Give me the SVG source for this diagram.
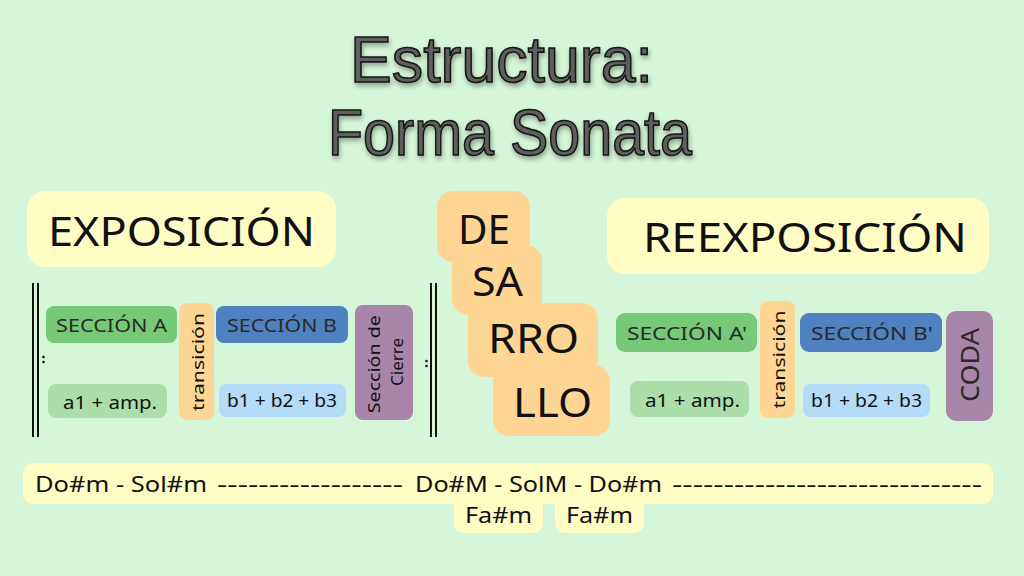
<svg xmlns="http://www.w3.org/2000/svg" width="1024" height="576" viewBox="0 0 1024 576">
<defs>
<filter id="sh" x="-10%" y="-20%" width="120%" height="150%">
<feGaussianBlur in="SourceAlpha" stdDeviation="2.5"/>
<feOffset dx="1" dy="3" result="b"/>
<feComponentTransfer><feFuncA type="linear" slope="0.35"/></feComponentTransfer>
<feMerge><feMergeNode/><feMergeNode in="SourceGraphic"/></feMerge>
</filter>
<style>
.t{font-family:"Noto Sans","Open Sans","DejaVu Sans",sans-serif;fill:#111;}
.title{font-family:"Liberation Sans",Arial,sans-serif;font-size:64px;fill:#5e5e5e;stroke:#151515;stroke-width:1.6px;text-anchor:start;}
.head{font-size:40px;}
.des{font-size:40px;}
.sec{font-size:18px;fill:#2a2a2a;}
.sub{font-size:18px;}
.rot{font-size:17px;text-anchor:middle;}
.chord{font-size:21px;}
.yel{fill:#FFFCC4;}
.ora{fill:#FFD594;}
.grn{fill:#77C877;}
.blu{fill:#4F80C0;}
.pur{fill:#A886A9;}
.lgr{fill:#ABDEA9;}
.lbl{fill:#B4DBF8;}
.bar{stroke:#111;stroke-width:2;}
</style>
</defs>
<rect width="1024" height="576" fill="#D5F6D8"/>

<g id="title" filter="url(#sh)">
<text class="title" x="350" y="82" textLength="303" lengthAdjust="spacingAndGlyphs">Estructura:</text>
<text class="title" x="328" y="155" textLength="364" lengthAdjust="spacingAndGlyphs">Forma Sonata</text>
</g>

<g id="exposicion">
<rect class="yel" x="27" y="191" width="309" height="76" rx="18"/>
<text class="t head" x="48" y="246" textLength="267" lengthAdjust="spacingAndGlyphs">EXPOSICIÓN</text>
</g>

<g id="reexposicion">
<rect class="yel" x="607" y="198" width="382" height="76" rx="18"/>
<text class="t head" x="643" y="252" textLength="324" lengthAdjust="spacingAndGlyphs">REEXPOSICIÓN</text>
</g>

<g id="desarrollo">
<rect class="ora" x="437" y="191" width="93" height="71" rx="16"/>
<rect class="ora" x="452" y="245" width="90" height="70" rx="16"/>
<rect class="ora" x="468" y="303" width="130" height="74" rx="16"/>
<rect class="ora" x="493" y="365" width="117" height="71" rx="16"/>
<text class="t des" x="458" y="244" textLength="52" lengthAdjust="spacingAndGlyphs">DE</text>
<text class="t des" x="472" y="296" textLength="51" lengthAdjust="spacingAndGlyphs">SA</text>
<text class="t des" x="488" y="353" textLength="91" lengthAdjust="spacingAndGlyphs">RRO</text>
<text class="t des" x="513" y="417" textLength="79" lengthAdjust="spacingAndGlyphs">LLO</text>
</g>

<g id="repeat-bars">
<line class="bar" x1="33" y1="283" x2="33" y2="437"/>
<line class="bar" x1="38" y1="283" x2="38" y2="437"/>
<circle cx="43.5" cy="357" r="1.3" fill="#111"/>
<circle cx="43.5" cy="362" r="1.3" fill="#111"/>
<line class="bar" x1="431" y1="283" x2="431" y2="437"/>
<line class="bar" x1="436" y1="283" x2="436" y2="437"/>
<circle cx="426.5" cy="361" r="1.3" fill="#111"/>
<circle cx="426.5" cy="366" r="1.3" fill="#111"/>
</g>

<g id="seccion-a">
<rect class="grn" x="46" y="306" width="131" height="37" rx="8"/>
<text class="t sec" x="56" y="332" textLength="111" lengthAdjust="spacingAndGlyphs">SECCIÓN A</text>
</g>
<g id="a1-amp">
<rect class="lgr" x="48" y="384" width="119" height="34" rx="8"/>
<text class="t sub" x="63" y="409" textLength="94" lengthAdjust="spacingAndGlyphs">a1 + amp.</text>
</g>
<g id="transicion-1">
<rect class="ora" x="179" y="303" width="35" height="117" rx="8"/>
<text class="t rot" transform="translate(196.5 362) rotate(-90)" x="0" y="7" textLength="98" lengthAdjust="spacingAndGlyphs">transición</text>
</g>
<g id="seccion-b">
<rect class="blu" x="216" y="306" width="132" height="37" rx="8"/>
<text class="t sec" x="227" y="332" textLength="110" lengthAdjust="spacingAndGlyphs">SECCIÓN B</text>
</g>
<g id="b1-b2-b3">
<rect class="lbl" x="219" y="384" width="127" height="33" rx="8"/>
<text class="t sub" x="227" y="407" textLength="110" lengthAdjust="spacingAndGlyphs">b1 + b2 + b3</text>
</g>
<g id="seccion-cierre">
<rect class="pur" x="355" y="305" width="58" height="115" rx="8"/>
<text class="t rot" transform="translate(384 362) rotate(-90)" fill="#2a2a2a">
<tspan x="0" y="-4" textLength="98" lengthAdjust="spacingAndGlyphs">Sección de</tspan>
<tspan x="0" y="19">Cierre</tspan>
</text>
</g>

<g id="seccion-a2">
<rect class="grn" x="616" y="313" width="141" height="39" rx="9"/>
<text class="t sec" x="627" y="340" textLength="120" lengthAdjust="spacingAndGlyphs">SECCIÓN A'</text>
</g>
<g id="a1-amp-2">
<rect class="lgr" x="630" y="381" width="119" height="36" rx="8"/>
<text class="t sub" x="645" y="407" textLength="95" lengthAdjust="spacingAndGlyphs">a1 + amp.</text>
</g>
<g id="transicion-2">
<rect class="ora" x="760" y="301" width="35" height="117" rx="8"/>
<text class="t rot" transform="translate(777.5 359.5) rotate(-90)" x="0" y="7" textLength="98" lengthAdjust="spacingAndGlyphs">transición</text>
</g>
<g id="seccion-b2">
<rect class="blu" x="800" y="313" width="142" height="39" rx="9"/>
<text class="t sec" x="811" y="340" textLength="122" lengthAdjust="spacingAndGlyphs">SECCIÓN B'</text>
</g>
<g id="b1-b2-b3-2">
<rect class="lbl" x="803" y="384" width="127" height="33" rx="8"/>
<text class="t sub" x="811" y="407" textLength="111" lengthAdjust="spacingAndGlyphs">b1 + b2 + b3</text>
</g>
<g id="coda">
<rect class="pur" x="946" y="311" width="47" height="110" rx="10"/>
<text class="t rot" transform="translate(969.5 365) rotate(-90)" x="0" y="9" style="font-size:26px;fill:#2a2a2a" textLength="74" lengthAdjust="spacingAndGlyphs">CODA</text>
</g>

<g id="tonalidades">
<rect class="yel" x="454" y="490" width="89" height="43" rx="9"/>
<rect class="yel" x="555" y="490" width="89" height="43" rx="9"/>
<rect class="yel" x="23" y="463" width="970" height="41" rx="10"/>
<text class="t chord" y="492">
<tspan x="35" textLength="172" lengthAdjust="spacingAndGlyphs">Do#m - Sol#m</tspan>
<tspan x="217" textLength="186" lengthAdjust="spacingAndGlyphs">------------------</tspan>
<tspan x="415" textLength="247" lengthAdjust="spacingAndGlyphs">Do#M - SolM - Do#m</tspan>
<tspan x="672" textLength="310" lengthAdjust="spacingAndGlyphs">------------------------------</tspan>
</text>
<text class="t chord" x="465" y="523" textLength="67" lengthAdjust="spacingAndGlyphs">Fa#m</text>
<text class="t chord" x="566" y="523" textLength="67" lengthAdjust="spacingAndGlyphs">Fa#m</text>
</g>
</svg>
